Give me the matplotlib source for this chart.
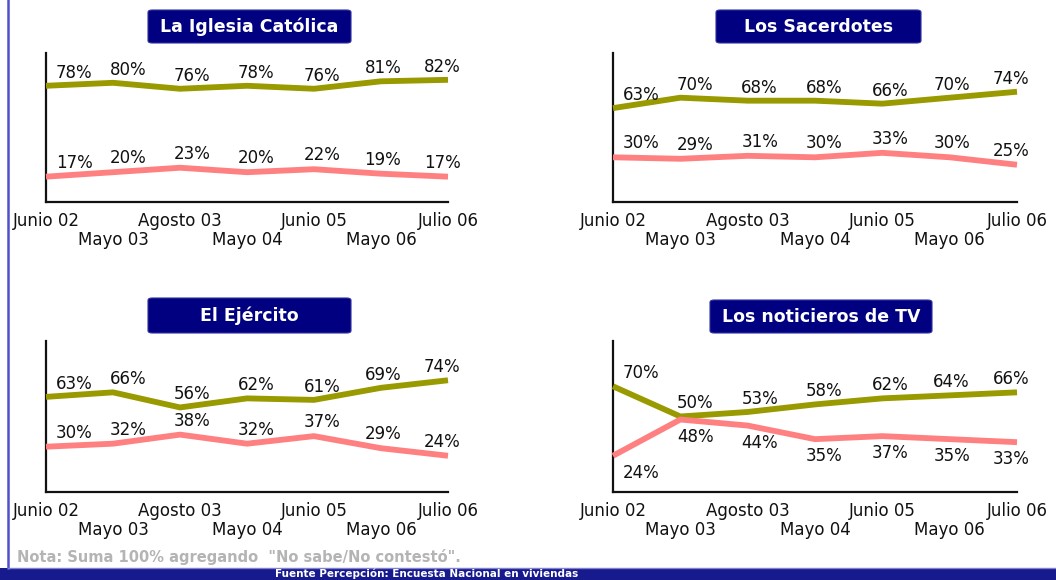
import matplotlib
matplotlib.use('Agg')
import matplotlib.pyplot as plt
from matplotlib.patches import FancyBboxPatch
from matplotlib.lines import Line2D

# ------------------------------------------------------------------------------
# Data
# ------------------------------------------------------------------------------
periods = ['Junio 02', 'Mayo 03', 'Agosto 03', 'Mayo 04', 'Junio 05', 'Mayo 06', 'Julio 06']

titles = ['La Iglesia Católica', 'Los Sacerdotes', 'El Ejército', 'Los noticieros de TV']

iglesia_conf = [78, 80, 76, 78, 76, 81, 82]
iglesia_noconf = [17, 20, 23, 20, 22, 19, 17]

sacerdotes_conf = [63, 70, 68, 68, 66, 70, 74]
sacerdotes_noconf = [30, 29, 31, 30, 33, 30, 25]

ejercito_conf = [63, 66, 56, 62, 61, 69, 74]
ejercito_noconf = [30, 32, 38, 32, 37, 29, 24]

tv_conf = [70, 50, 53, 58, 62, 64, 66]
tv_noconf = [24, 48, 44, 35, 37, 35, 33]

note = 'Nota: Suma 100% agregando  "No sabe/No contestó".'
source = 'Fuente Percepción: Encuesta Nacional en viviendas'

# ------------------------------------------------------------------------------
# Style
# ------------------------------------------------------------------------------
OLIVE = '#999900'
PINK = '#FF8080'
NAVY = '#000080'
BAND = '#161A8C'
W, H = 1056, 580

plt.rcParams['font.family'] = ['DejaVu Sans']

# label x shift per point (pixels), as in the original layout
label_dx = [28, 15, 12, 9, 8, 2, -6]


def fx(px):
    return px / W


def fy(py):
    return 1 - py / H


def draw_panel(fig, rect, title, title_box, conf, noconf, pink_below=False):
    ax = fig.add_axes(rect)
    x = list(range(len(periods)))
    ax.plot(x, conf, color=OLIVE, lw=4.2, solid_capstyle='butt', clip_on=False, zorder=3)
    ax.plot(x, noconf, color=PINK, lw=4.2, solid_capstyle='butt', clip_on=False, zorder=3)

    for i, v in enumerate(conf):
        ax.annotate(f'{v}%', (i, v), xytext=(label_dx[i], 13), textcoords='offset pixels',
                    ha='center', va='center', fontsize=12, color='#111111', zorder=4)
    for i, v in enumerate(noconf):
        dy = -17 if pink_below else 14
        ax.annotate(f'{v}%', (i, v), xytext=(label_dx[i], dy), textcoords='offset pixels',
                    ha='center', va='center', fontsize=12, color='#111111', zorder=4)

    ax.set_xlim(0, 6)
    ax.set_ylim(0, 100)
    ax.set_xticks([])
    ax.set_yticks([])
    for s in ['top', 'right']:
        ax.spines[s].set_visible(False)
    for s in ['left', 'bottom']:
        ax.spines[s].set_linewidth(1.6)
        ax.spines[s].set_color('#111111')

    # alternating period labels
    for i, lab in enumerate(periods):
        dy = -19 if i % 2 == 0 else -38
        ax.annotate(lab, (i, 0), xytext=(0, dy), textcoords='offset pixels',
                    xycoords=('data', 'axes fraction'),
                    ha='center', va='center', fontsize=12, color='#111111',
                    annotation_clip=False)

    # title box
    x0, y0, x1, y1 = title_box
    box = FancyBboxPatch((fx(x0), fy(y1)), fx(x1 - x0), (y1 - y0) / H,
                         boxstyle='round,pad=0,rounding_size=0.004',
                         transform=fig.transFigure, facecolor=NAVY,
                         edgecolor='#3030A0', linewidth=0.8)
    fig.patches.append(box)
    fig.text(fx((x0 + x1) / 2), fy((y0 + y1) / 2), title, ha='center', va='center',
             fontsize=12.5, fontweight='bold', color='white')
    return ax


fig = plt.figure(figsize=(W / 100, H / 100), dpi=100)

draw_panel(fig, [fx(46), fy(202), fx(402), 149 / H], titles[0], (148, 10, 351, 43),
           iglesia_conf, iglesia_noconf)
draw_panel(fig, [fx(613), fy(202), fx(404), 149 / H], titles[1], (716, 10, 921, 43),
           sacerdotes_conf, sacerdotes_noconf)
draw_panel(fig, [fx(46), fy(492), fx(402), 151 / H], titles[2], (148, 298, 351, 333),
           ejercito_conf, ejercito_noconf)
draw_panel(fig, [fx(613), fy(492), fx(404), 151 / H], titles[3], (710, 300, 932, 333),
           tv_conf, tv_noconf, pink_below=True)

# left border line
fig.add_artist(Line2D([fx(8), fx(8)], [fy(568), 1], transform=fig.transFigure,
                      color='#5050C8', lw=1.8))

# note and bottom band
fig.text(fx(17), fy(557), note, ha='left', va='center', fontsize=10.5,
         fontweight='bold', color='#B4B4B4')
fig.patches.append(FancyBboxPatch((0, 0), 1, 12 / H, boxstyle='square,pad=0',
                                  transform=fig.transFigure, facecolor=BAND,
                                  edgecolor='none'))
fig.add_artist(Line2D([fx(8), 1], [fy(567.5), fy(567.5)], transform=fig.transFigure,
                      color='#8080D0', lw=1))
fig.text(fx(275), fy(574), source, ha='left', va='center', fontsize=7.5,
         fontweight='bold', color='white')

fig.savefig('out.png', dpi=100)
